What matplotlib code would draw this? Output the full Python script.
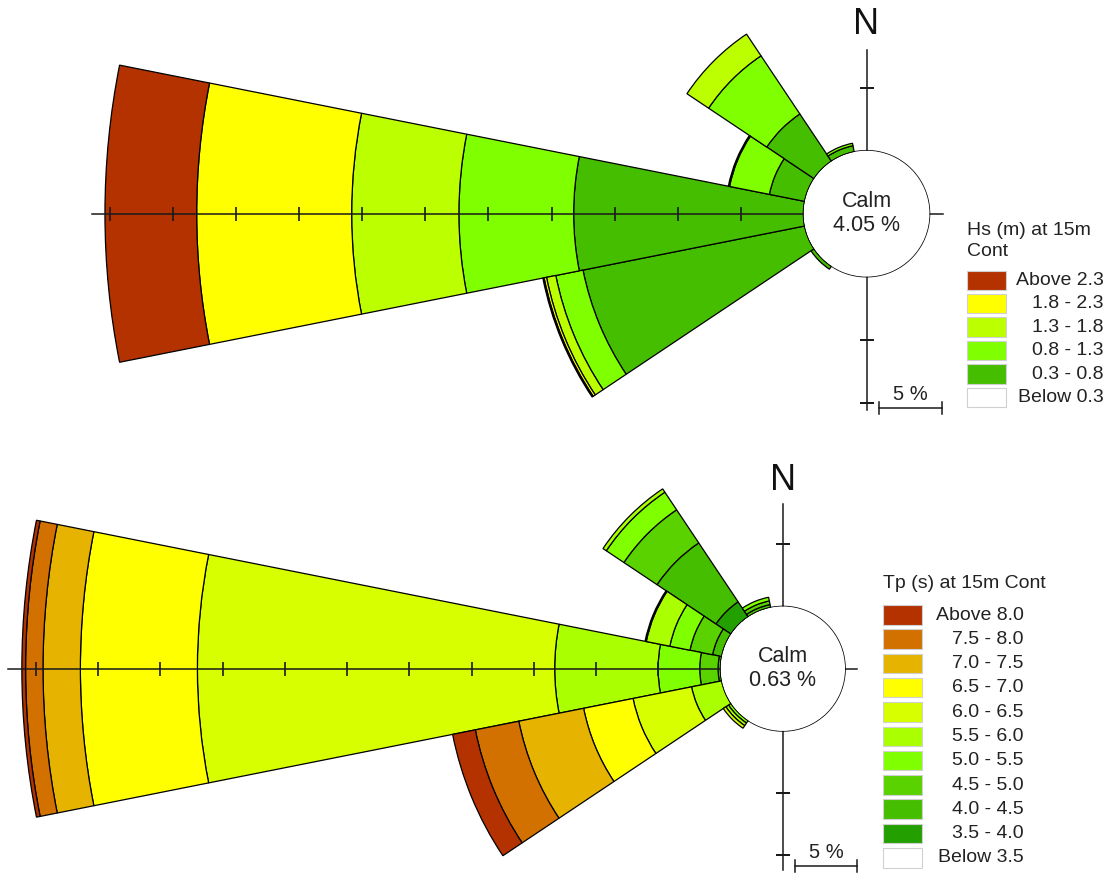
import numpy as np
import matplotlib
matplotlib.use("Agg")
import matplotlib.pyplot as plt
from matplotlib.patches import Rectangle

plt.rcParams['font.family'] = ['Liberation Sans', 'DejaVu Sans']

# ---- data -------------------------------------------------------------
compass = ['N', 'NNE', 'NE', 'ENE', 'E', 'ESE', 'SE', 'SSE',
           'S', 'SSW', 'SW', 'WSW', 'W', 'WNW', 'NW', 'NNW']

# wave height rose (percent of time per class, inner -> outer)
hs_title = 'Hs (m) at 15m\nCont'
hs_classes = ['Below 0.3', '0.3 - 0.8', '0.8 - 1.3', '1.3 - 1.8', '1.8 - 2.3', 'Above 2.3']
hs_colors = ['#ffffff', '#46be00', '#80ff00', '#bbff00', '#ffff00', '#b43200']
hs_calm = 4.05
hs_dirs = ['SW', 'WSW', 'W', 'WNW', 'NW', 'NNW']
hs_pct = [
    [0, 0.30, 0.00, 0.00, 0.00, 0.00],
    [0, 17.94, 2.20, 0.75, 0.20, 0.10],
    [0, 18.24, 9.11, 8.51, 12.30, 7.28],
    [0, 2.86, 3.22, 0.10, 0.00, 0.00],
    [0, 4.52, 5.55, 2.07, 0.00, 0.00],
    [0, 0.50, 0.20, 0.00, 0.00, 0.00],
]

# wave period rose
tp_title = 'Tp (s) at 15m Cont'
tp_classes = ['Below 3.5', '3.5 - 4.0', '4.0 - 4.5', '4.5 - 5.0', '5.0 - 5.5', '5.5 - 6.0',
              '6.0 - 6.5', '6.5 - 7.0', '7.0 - 7.5', '7.5 - 8.0', 'Above 8.0']
tp_colors = ['#ffffff', '#23a000', '#46be00', '#5ad200', '#80ff00', '#aaff00',
             '#d7ff00', '#ffff00', '#e6b400', '#d27000', '#b43200']
tp_calm = 0.63
tp_dirs = ['SW', 'WSW', 'W', 'WNW', 'NW', 'NNW']
tp_pct = [
    [0, 0, 0, 0, 0.25, 0.25, 0.25, 0, 0, 0, 0],
    [0, 0, 0, 0, 0, 2.47, 4.79, 4.05, 5.31, 3.56, 1.86],
    [0, 0, 0.20, 1.47, 3.35, 8.30, 28.70, 9.40, 3.00, 1.40, 0.30],
    [0, 0, 0.75, 1.85, 1.65, 1.93, 0.10, 0, 0, 0, 0],
    [0, 1.46, 5.69, 3.20, 1.70, 0.32, 0, 0, 0, 0, 0],
    [0, 0, 0.25, 0.30, 0.30, 0, 0, 0, 0, 0, 0],
]

# ---- layout -----------------------------------------------------------
W, H = 1110, 874
R0 = 5.0        # calm circle radius in % units
RMAX = 60.0

fig = plt.figure(figsize=(W / 100, H / 100), dpi=100)


def add_rose(cx, cy, px, dirs, pct, colors, calm, n_end, s_end, w_end, e_end, s_ticks):
    half = (RMAX + R0) * px
    ax = fig.add_axes([(cx - half) / W, (H - cy - half) / H, 2 * half / W, 2 * half / H],
                      projection='polar')
    ax.set_theta_zero_location('N')
    ax.set_theta_direction(-1)
    ax.set_rorigin(-R0)

    theta = np.deg2rad([22.5 * compass.index(d) for d in dirs])
    vals = np.array(pct, dtype=float)
    bottom = np.zeros(len(dirs))
    for k in range(vals.shape[1]):
        h = vals[:, k]
        m = h > 0
        if m.any():
            ax.bar(theta[m], h[m], width=np.deg2rad(22.5), bottom=bottom[m],
                   color=colors[k], edgecolor='black', linewidth=0.9, zorder=2)
        bottom += h

    # cross axes with 5 % ticks
    lk = dict(color='#1a1a1a', lw=1.1, zorder=4)
    tN, tE, tS, tW = 0, np.pi / 2, np.pi, 3 * np.pi / 2
    ax.plot([tN, tN], [0, n_end], **lk)
    ax.plot([tS, tS], [0, s_end], **lk)
    ax.plot([tW, tW], [0, w_end], **lk)
    ax.plot([tE, tE], [0, e_end], **lk)
    wt = np.arange(5, w_end, 5)
    ax.plot(np.full(len(wt), tW), wt, ls='none', marker='|', ms=10, mew=1.2, color='#1a1a1a', zorder=4)
    ax.plot([tN], [5], ls='none', marker='_', ms=10, mew=1.2, color='#1a1a1a', zorder=4)
    st = np.arange(5, s_ticks + 1, 5)
    ax.plot(np.full(len(st), tS), st, ls='none', marker='_', ms=10, mew=1.2, color='#1a1a1a', zorder=4)

    # calm circle
    ang = np.linspace(0, 2 * np.pi, 361)
    ax.plot(ang, np.zeros_like(ang), color='black', lw=1.1, zorder=5)
    ax.text(0.5, 0.5, 'Calm\n%.2f %%' % calm, transform=ax.transAxes, ha='center',
            va='center', fontsize=15.5, linespacing=1.2, color='#222222', zorder=6)
    ax.set_ylim(0, RMAX)
    ax.axis('off')
    return ax


add_rose(866.5, 213.7, 12.6, hs_dirs, hs_pct, hs_colors, hs_calm,
         n_end=8.0, s_end=10.6, w_end=56.5, e_end=1.1, s_ticks=10)
add_rose(782.8, 668.7, 12.45, tp_dirs, tp_pct, tp_colors, tp_calm,
         n_end=8.2, s_end=11.2, w_end=57.2, e_end=0.95, s_ticks=10)

# ---- decorations in pixel coordinates ---------------------------------
deco = fig.add_axes([0, 0, 1, 1])
deco.set_xlim(0, W)
deco.set_ylim(H, 0)
deco.axis('off')

# north labels
deco.text(866.5, 24, 'N', ha='center', va='center', fontsize=26, color='#111111')
deco.text(782.8, 481, 'N', ha='center', va='center', fontsize=26, color='#111111')


def scale_bar(x0, y, length):
    deco.plot([x0, x0 + length], [y, y], color='#1a1a1a', lw=1.1)
    deco.plot([x0, x0], [y - 6, y + 6], color='#1a1a1a', lw=1.1)
    deco.plot([x0 + length, x0 + length], [y - 6, y + 6], color='#1a1a1a', lw=1.1)
    deco.text(x0 + length / 2, y - 4, '5 %', ha='center', va='bottom', fontsize=14.5,
              color='#222222')


scale_bar(878.5, 408, 5 * 12.6)
scale_bar(795.0, 866, 5 * 12.45)


def legend(x, title_y, title, classes, colors, row0, dy, text_right):
    deco.text(x, title_y, title, ha='left', va='top', fontsize=14, linespacing=1.3,
              color='#222222')
    labels = classes[::-1]
    cols = colors[::-1]
    for i, (lab, c) in enumerate(zip(labels, cols)):
        y = row0 + i * dy
        deco.add_patch(Rectangle((x, y), 39.5, 19.5, facecolor=c, edgecolor='#d0d0d0', lw=0.8))
        deco.text(text_right, y + 10, lab, ha='right', va='center', fontsize=14, color='#222222')


legend(966.7, 222, hs_title, hs_classes, hs_colors, 270.5, 23.4, 1104)
legend(882.7, 575, tp_title, tp_classes, tp_colors, 605.0, 24.3, 1024)

fig.savefig('out.png', dpi=100)
